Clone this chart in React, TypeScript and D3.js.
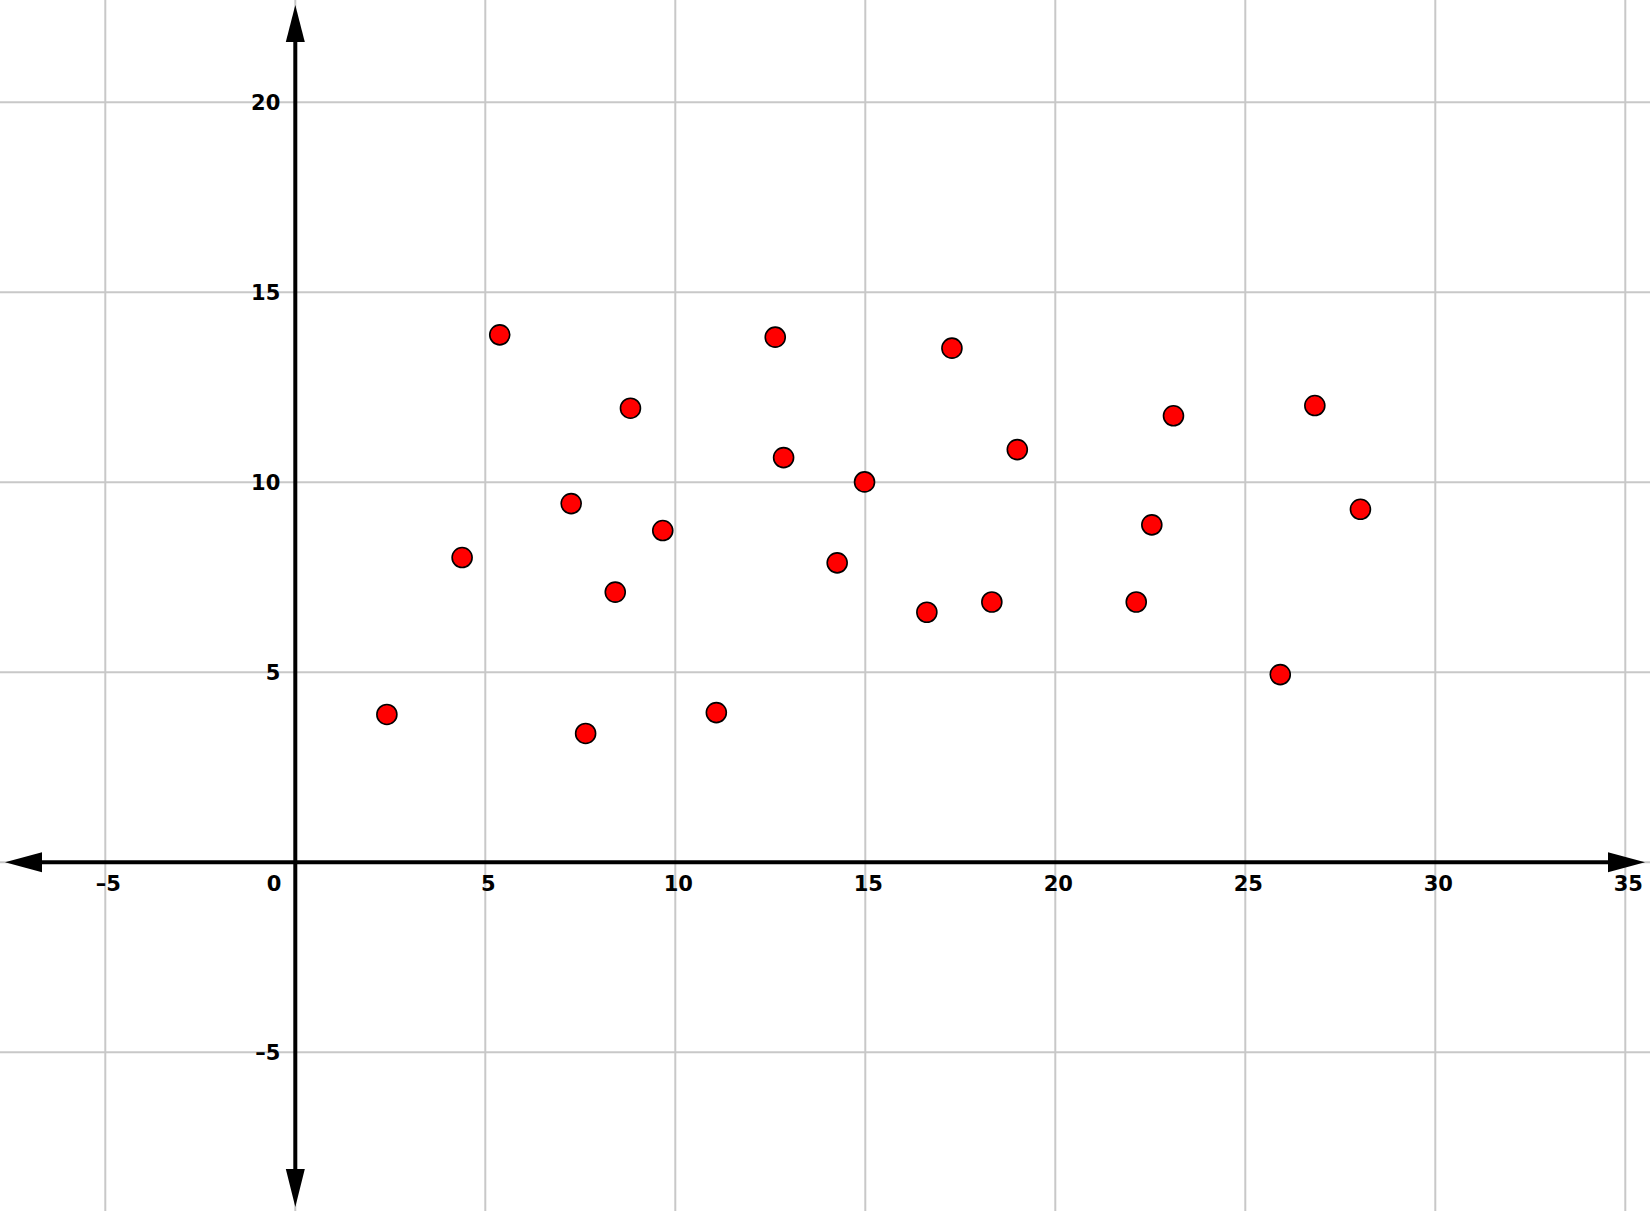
import React from "react";
import * as d3 from "d3";

const xs = [2.41, 4.39, 5.38, 7.26, 7.64, 8.42, 8.82, 9.67, 11.08, 12.63, 12.85, 14.26, 14.98, 16.62, 17.28, 18.33, 19.0, 22.13, 22.54, 23.11, 25.92, 26.83, 28.03];
const ys = [3.89, 8.02, 13.88, 9.44, 3.39, 7.11, 11.95, 8.73, 3.94, 13.82, 10.65, 7.88, 10.01, 6.58, 13.53, 6.85, 10.86, 6.85, 8.88, 11.75, 4.94, 12.02, 9.29];
const xTicks = [-5, 5, 10, 15, 20, 25, 30, 35];
const yTicks = [-5, 5, 10, 15, 20];
const xGrid = [-5, 0, 5, 10, 15, 20, 25, 30, 35];
const yGrid = [-5, 0, 5, 10, 15, 20];

const W = 1650;
const H = 1211;
const X0 = 295.3;
const Y0 = 862.3;
const U = 38;

export default function App() {
  const x = d3.scaleLinear().domain([0, 35]).range([X0, X0 + 35 * U]);
  const y = d3.scaleLinear().domain([0, 20]).range([Y0, Y0 - 20 * U]);
  const font = "'DejaVu Sans', sans-serif";
  const fmt = (v: number) => (v < 0 ? "\u2013" + Math.abs(v) : String(v));
  return (
    <div style={{ position: "absolute", left: 0, top: 0 }}>
      <svg width={W} height={H} style={{ display: "block", background: "#fff" }}>
        <g stroke="#c8c8c8" strokeWidth={2}>
          {xGrid.map((v) => (
            <line key={"gx" + v} x1={x(v)} x2={x(v)} y1={0} y2={H} />
          ))}
          {yGrid.map((v) => (
            <line key={"gy" + v} x1={0} x2={W} y1={y(v)} y2={y(v)} />
          ))}
        </g>
        <g stroke="#000" strokeWidth={4}>
          <line x1={30} x2={1615} y1={y(0)} y2={y(0)} />
          <line x1={x(0)} x2={x(0)} y1={35} y2={1177} />
        </g>
        <g fill="#000">
          <path d={`M${x(0)},5 L${x(0) - 9.5},42 L${x(0) + 9.5},42 Z`} />
          <path d={`M${x(0)},1207 L${x(0) - 9.5},1169 L${x(0) + 9.5},1169 Z`} />
          <path d={`M1645,${y(0)} L1608,${y(0) - 10} L1608,${y(0) + 10} Z`} />
          <path d={`M5,${y(0)} L42,${y(0) - 10} L42,${y(0) + 10} Z`} />
        </g>
        <g fontFamily={font} fontWeight="bold" fontSize={21} fill="#000">
          {xTicks.map((v) => (
            <text key={"tx" + v} x={x(v) + 3} y={y(0) + 29} textAnchor="middle">
              {fmt(v)}
            </text>
          ))}
          <text x={x(0) - 14} y={y(0) + 29} textAnchor="end">0</text>
          {yTicks.map((v) => (
            <text key={"ty" + v} x={x(0) - 15} y={y(v) + 8} textAnchor="end">
              {fmt(v)}
            </text>
          ))}
        </g>
        <g>
          {xs.map((v, i) => (
            <circle key={"p" + i} cx={x(v)} cy={y(ys[i])} r={10} fill="#ff0000" stroke="#000" strokeWidth={1.6} />
          ))}
        </g>
      </svg>
    </div>
  );
}
